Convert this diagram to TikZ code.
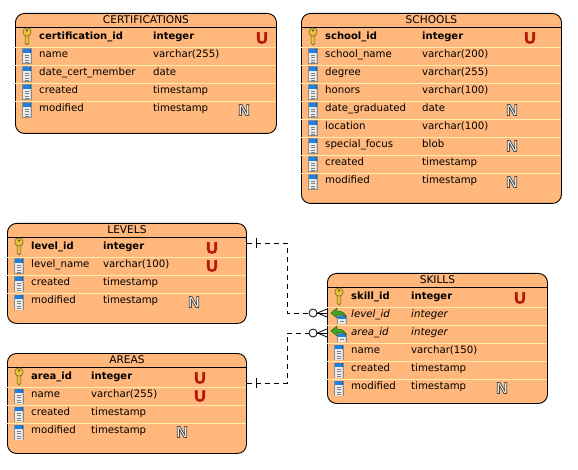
\documentclass[tikz,border=0pt]{standalone}
\usepackage{fontspec}
\setmainfont{DejaVu Sans}
\newfontfamily\badgefont{Liberation Sans}
\usetikzlibrary{calc}
\definecolor{tbl}{HTML}{FFB77C}
\definecolor{sep}{HTML}{FFEDAE}
\definecolor{uc}{HTML}{B81808}
\definecolor{keyc}{HTML}{E8C040}
\definecolor{fkg}{HTML}{40A820}
\definecolor{colb}{HTML}{2080E0}
\tikzset{
  tablebox/.style={draw=black,line width=0.9pt,fill=tbl,rounded corners=9pt,inner sep=0pt,anchor=north west},
  title/.style={font=\fontsize{10.6}{12}\selectfont,anchor=center,inner sep=0pt},
  cell/.style={font=\fontsize{10.2}{12}\selectfont,anchor=base west,inner sep=0pt},
  pkcell/.style={cell,font=\fontsize{10}{12}\selectfont\bfseries},
  fkcell/.style={cell,font=\fontsize{10.2}{12}\selectfont\itshape},
  rel/.style={line width=0.8pt,dash pattern=on 5pt off 4pt},
  solidrel/.style={line width=0.8pt},
  ubadge/.style={font=\badgefont\fontsize{16}{12}\selectfont\bfseries,text=uc,inner sep=0pt,anchor=center},
  nbadge/.style={font=\badgefont\fontsize{16}{12}\selectfont\bfseries,text=white,inner sep=0pt,anchor=center},
  crowcircle/.style={circle,draw=black,line width=0.8pt,fill=white,minimum size=8pt,inner sep=0pt},
}
\newcommand{\tableframe}[7]{%
  \node[tablebox,minimum width=#4pt,minimum height=#5pt] (#1) at (#2,#3) {};
  \node[title] (#1title) at ($(#1.north)+(0,7)$) {#6};
  \draw[black,line width=0.9pt] (#2,#3+14) -- (#2+#4,#3+14);
  \foreach \r in {1,...,#7}{
    \draw[sep,line width=0.8pt] (#2,#3+16+18*\r) -- (#2+#4,#3+16+18*\r);
  }
}
\newcommand{\keyicon}[2]{%
  \begin{scope}[shift={(#1,#2)}]
    \fill[keyc,draw=black!55!keyc,line width=0.5pt] (-1.9,-4) -- (1.9,-4) -- (1.9,6) -- (0,8) -- (-1.9,6) -- cycle;
    \fill[keyc,draw=black!55!keyc,line width=0.5pt] (0,-5) circle (4.2pt);
    \fill[black!60!keyc] (0,-6.5) circle (1.1pt);
  \end{scope}}
\newcommand{\colicon}[2]{%
  \begin{scope}[shift={(#1,#2)}]
    \fill[black!45] (-4.7,-7.5) rectangle (4.7,8);
    \fill[white!92!black] (-4,-7) rectangle (4,7.5);
    \fill[colb] (-4,-7) rectangle (4,-3);
    \fill[colb!70!black] (2.5,-7) rectangle (4,-3);
    \fill[black!18] (2.5,-3) rectangle (4,7.5);
    \foreach \yy in {-1,1.5,4,6}{\draw[black!50,line width=0.5pt] (-2.5,\yy) -- (1.5,\yy);}
  \end{scope}}
\newcommand{\fkicon}[2]{%
  \begin{scope}[shift={(#1,#2)}]
    \fill[black!45] (-0.7,0) rectangle (8.7,9);
    \fill[white!92!black] (0,0.5) rectangle (8,9);
    \fill[colb] (0,0.5) rectangle (8,4);
    \fill[black!18] (6.5,4) rectangle (8,9);
    \draw[black!50,line width=0.5pt] (1.5,6) -- (5.5,6);
    \fill[fkg,draw=black!50!fkg,line width=0.4pt] (-7,-2) -- (-1,-7) -- (-1,-4) .. controls (4,-4) and (7,-2) .. (8,2) .. controls (5,-0.5) and (2,-0.5) .. (-1,-0.5) -- (-1,3) -- cycle;
  \end{scope}}
\newcommand{\tabcfg}[3]{\def\cfgtop{#1}\def\cfgtx{#2}\def\cfgcx{#3}}
\newcommand{\setrowy}[1]{\pgfmathsetmacro\rowy{\cfgtop+23+18*(#1-1)}}
\newcommand{\rowk}[3]{\setrowy{#1}\keyicon{\cfgtx-12}{\rowy+1}\node[pkcell] (#3) at (\cfgtx,\rowy+3.5) {#2};\node[pkcell] at (\cfgcx,\rowy+3.5) {integer};}
\newcommand{\rowc}[3]{\setrowy{#1}\colicon{\cfgtx-12}{\rowy+2}\node[cell] at (\cfgtx,\rowy+3.5) {#2};\node[cell] at (\cfgcx,\rowy+3.5) {#3};}
\newcommand{\rowf}[2]{\setrowy{#1}\fkicon{\cfgtx-13}{\rowy+1}\node[fkcell] at (\cfgtx,\rowy+3.5) {#2};\node[fkcell] at (\cfgcx,\rowy+3.5) {integer};}
\newcommand{\ub}[2]{\setrowy{#2}\node[ubadge] at (#1,\rowy+2) {\special{pdf:code q 2 Tr 0.5 w 0.72 0.09 0.03 RG}U\special{pdf:code Q}};}
\newcommand{\nb}[2]{\setrowy{#2}\node[nbadge] at (#1,\rowy+2) {\special{pdf:code q 2 Tr 0.8 w 0.3 0.3 0.3 RG}N\special{pdf:code Q}};}
\begin{document}
\begin{tikzpicture}[x=1pt,y=-1pt]
\useasboundingbox (0,0) rectangle (578,470);
% CERTIFICATIONS
\tableframe{cert}{15}{13}{261}{120}{CERTIFICATIONS}{4}
\tabcfg{13}{39}{153}
\rowk{1}{certification\_id}{certpk}
\rowc{2}{name}{varchar(255)}
\rowc{3}{date\_cert\_member}{date}
\rowc{4}{created}{timestamp}
\rowc{5}{modified}{timestamp}
\ub{262}{1}\nb{244}{5}
% SCHOOLS
\tableframe{school}{301}{13}{260}{190}{SCHOOLS}{8}
\tabcfg{13}{325}{422}
\rowk{1}{school\_id}{schoolpk}
\rowc{2}{school\_name}{varchar(200)}
\rowc{3}{degree}{varchar(255)}
\rowc{4}{honors}{varchar(100)}
\rowc{5}{date\_graduated}{date}
\rowc{6}{location}{varchar(100)}
\rowc{7}{special\_focus}{blob}
\rowc{8}{created}{timestamp}
\rowc{9}{modified}{timestamp}
\ub{530}{1}\nb{512}{5}\nb{512}{7}\nb{512}{9}
% LEVELS
\tableframe{levels}{7}{223}{239}{100}{LEVELS}{3}
\tabcfg{223}{31}{103}
\rowk{1}{level\_id}{levelpk}
\rowc{2}{level\_name}{varchar(100)}
\rowc{3}{created}{timestamp}
\rowc{4}{modified}{timestamp}
\ub{212}{1}\ub{212}{2}\nb{194}{4}
% AREAS
\tableframe{areas}{7}{353}{239}{100}{AREAS}{3}
\tabcfg{353}{31}{91}
\rowk{1}{area\_id}{areapk}
\rowc{2}{name}{varchar(255)}
\rowc{3}{created}{timestamp}
\rowc{4}{modified}{timestamp}
\ub{200}{1}\ub{200}{2}\nb{182}{4}
% SKILLS
\tableframe{skills}{327}{273}{220}{130}{SKILLS}{5}
\tabcfg{273}{351}{411}
\rowk{1}{skill\_id}{skillpk}
\rowf{2}{level\_id}
\rowf{3}{area\_id}
\rowc{4}{name}{varchar(150)}
\rowc{5}{created}{timestamp}
\rowc{6}{modified}{timestamp}
\ub{520}{1}\nb{502}{6}
% connectors
\node[crowcircle] (c1) at (313,313) {};
\node[crowcircle] (c2) at (313,333) {};
\coordinate (lv) at (levels.east |- 0,243);
\coordinate (ar) at (areas.east |- 0,383);
\coordinate (t1) at (skills.west |- 0,313);
\coordinate (t2) at (skills.west |- 0,333);
\coordinate (b1) at (287,243);
\coordinate (b2) at (287,383);
\draw[rel] (lv) -- (b1) |- (c1);
\draw[rel] (ar) -- (b2) |- (c2);
\foreach \k in {lv,ar}{
  \draw[solidrel] ($(\k)+(9,-5)$) -- ($(\k)+(9,5)$);
}
\foreach \c/\t in {c1/t1,c2/t2}{
  \draw[solidrel] (\c.east) -- (\t);
  \draw[solidrel] (\c.east) -- ($(\t)+(0,-4)$);
  \draw[solidrel] (\c.east) -- ($(\t)+(0,4)$);
}
\end{tikzpicture}
\end{document}
